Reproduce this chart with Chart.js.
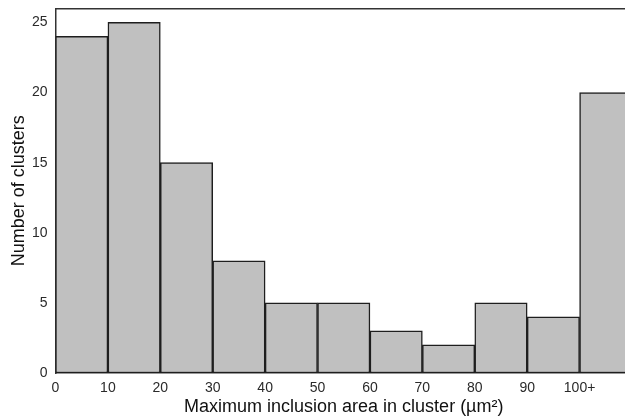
<!DOCTYPE html>
<html>
<head>
<meta charset="utf-8">
<script src="https://cdn.jsdelivr.net/npm/chart.js@4/dist/chart.umd.min.js"></script>
<style>
  html, body { margin: 0; padding: 0; background: #fff; overflow: hidden; }
  #wrap { width: 632px; height: 418px; }
</style>
</head>
<body>
<div id="wrap"><canvas id="hist"></canvas></div>
<script>
// bins of max inclusion area, 10 µm² wide, last one open-ended
const binNames  = ['0-10', '10-20', '20-30', '30-40', '40-50', '50-60', '60-70', '70-80', '80-90', '90-100', '100+'];
const counts    = [24, 25, 15, 8, 5, 5, 3, 2, 5, 4, 20];
const edgeTicks = ['0', '10', '20', '30', '40', '50', '60', '70', '80', '90', '100+'];
const yTicks    = [0, 5, 10, 15, 20, 25];

const family = '"Liberation Sans", Arial, sans-serif';
const tickFont = { family, size: 14 };
const titleFont = { family, size: 18 };
const axisColor = '#333';

new Chart(document.getElementById('hist'), {
  type: 'bar',
  data: {
    labels: binNames,
    datasets: [{
      data: counts,
      backgroundColor: '#c0c0c0',
      borderColor: '#1e1e1e',
      borderWidth: 1.5,
      borderSkipped: false,
      barPercentage: 1,
      categoryPercentage: 1,
      xAxisID: 'x',
    }],
  },
  options: {
    responsive: true,
    maintainAspectRatio: false,
    animation: false,
    layout: { padding: 0 },
    plugins: { legend: { display: false }, tooltip: { enabled: false } },
    scales: {
      // category axis only used to lay the bars out; drawn as the top frame line
      x: {
        position: 'top',
        grid: { display: false },
        border: { display: true, color: axisColor, width: 1.5 },
        ticks: { display: false },
        afterFit: s => { s.height = 4.5; },
      },
      // bin edges along the bottom
      edges: {
        type: 'linear',
        position: 'bottom',
        offset: false,
        min: 0,
        max: binNames.length,
        grid: { display: false },
        border: { display: true, color: axisColor, width: 1.5 },
        afterBuildTicks: s => { s.ticks = edgeTicks.map((_, i) => ({ value: i })); },
        ticks: {
          color: '#2a2a2a',
          font: tickFont,
          padding: -1,
          maxRotation: 0,
          autoSkip: false,
          callback: v => edgeTicks[v] ?? '',
        },
        title: {
          display: true,
          text: 'Maximum inclusion area in cluster (µm²)',
          color: '#111',
          font: titleFont,
          padding: { top: 0, bottom: 0 },
        },
        afterFit: s => { s.height = 45; },
      },
      y: {
        min: 0,
        max: 26,
        grid: { display: false },
        border: { display: true, color: axisColor, width: 1.5 },
        afterBuildTicks: s => { s.ticks = yTicks.map(v => ({ value: v })); },
        ticks: { color: '#2a2a2a', font: tickFont, padding: 0 },
        title: {
          display: true,
          text: 'Number of clusters',
          color: '#111',
          font: titleFont,
          padding: { top: 8, bottom: 0 },
        },
        afterFit: s => { s.width = 55.5; },
      },
    },
  },
});
</script>
</body>
</html>
